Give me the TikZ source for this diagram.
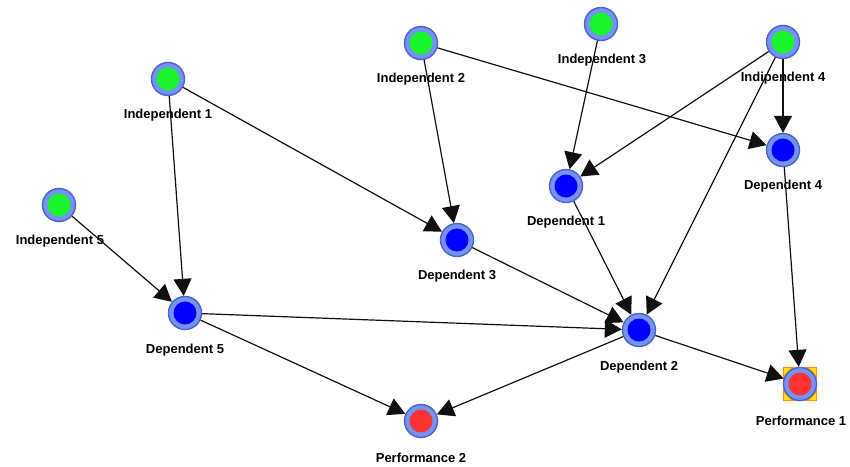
\documentclass[tikz,border=0pt]{standalone}
\usepackage{fontspec}
\setmainfont{Liberation Sans}
\usetikzlibrary{arrows.meta}
\definecolor{ringfill}{HTML}{7593F0}
\definecolor{ringdraw}{HTML}{4A63D0}
\definecolor{ingreen}{HTML}{1AF52E}
\definecolor{inblue}{HTML}{0000FF}
\definecolor{inred}{HTML}{FF3333}
\definecolor{edgecol}{HTML}{101010}
\definecolor{selorange}{HTML}{FF8C00}
\definecolor{selyellow}{HTML}{FFE000}
\tikzset{
  vnode/.style={circle, minimum size=33pt, inner sep=0pt, draw=ringdraw, line width=1.4pt, fill=ringfill,
    path picture={\fill[#1] (path picture bounding box.center) circle (11.5pt);}},
  vlabel/.style={font=\bfseries\fontsize{13}{15}\selectfont, inner sep=0pt, anchor=center},
  edge/.style={draw=edgecol, line width=1.2pt, -{Triangle[length=17pt,width=18pt]}},
}
\begin{document}
\begin{tikzpicture}[x=1pt,y=-1pt]
\useasboundingbox (0,0) rectangle (850,466);
% selection marker behind Performance 1
\coordinate (sel) at (800,384);
\fill[selorange] ([shift={(-17,-17)}]sel) rectangle ([shift={(17,17)}]sel);
\foreach \sx/\sy in {-1/-1,1/-1,-1/1,1/1}{
  \fill[selyellow] ([shift={(\sx*16,\sy*16)}]sel) -- ([shift={(\sx*9,\sy*16)}]sel) -- ([shift={(\sx*16,\sy*9)}]sel) -- cycle;
}
% nodes
\node[vnode=ingreen] (i1) at (168,79) {};
\node[vnode=ingreen] (i2) at (421,43) {};
\node[vnode=ingreen] (i3) at (601,24) {};
\node[vnode=ingreen] (i4) at (783,42) {};
\node[vnode=ingreen] (i5) at (59,205) {};
\node[vnode=inblue] (d1) at (566,186) {};
\node[vnode=inblue] (d2) at (639,330) {};
\node[vnode=inblue] (d3) at (457,240) {};
\node[vnode=inblue] (d4) at (783,150) {};
\node[vnode=inblue] (d5) at (185,313) {};
\node[vnode=inred] (p1) at (sel) {};
\node[vnode=inred] (p2) at (421,421) {};
% labels
\node[vlabel] (li1) at (168,115) {Independent 1};
\node[vlabel] (li2) at (421,79) {Independent 2};
\node[vlabel] (li3) at (602,60) {Independent 3};
\node[vlabel] (li4) at (783,78) {Indipendent 4};
\node[vlabel] (li5) at (60,241) {Independent 5};
\node[vlabel] (ld1) at (566,222) {Dependent 1};
\node[vlabel] (ld2) at (639,367) {Dependent 2};
\node[vlabel] (ld3) at (457,276) {Dependent 3};
\node[vlabel] (ld4) at (783,186) {Dependent 4};
\node[vlabel] (ld5) at (185,350) {Dependent 5};
\node[vlabel] (lp1) at (801,421) {Performance 1};
\node[vlabel] (lp2) at (421,458) {Performance 2};
% edges
\draw[edge] (i1) -- (d3);
\draw[edge] (i1) -- (d5);
\draw[edge] (i2) -- (d3);
\draw[edge] (i2) -- (d4);
\draw[edge] (i3) -- (d1);
\draw[edge] (i4) -- (d1);
\draw[edge] (i4) -- (d4);
\draw[edge] (i4) -- (d2);
\draw[edge] (i5) -- (d5);
\draw[edge] (d1) -- (d2);
\draw[edge] (d3) -- (d2);
\draw[edge] (d5) -- (d2);
\draw[edge] (d5) -- (p2);
\draw[edge] (d2) -- (p2);
\draw[edge] (d2) -- (p1);
\draw[edge] (d4) -- (p1);
\end{tikzpicture}
\end{document}
